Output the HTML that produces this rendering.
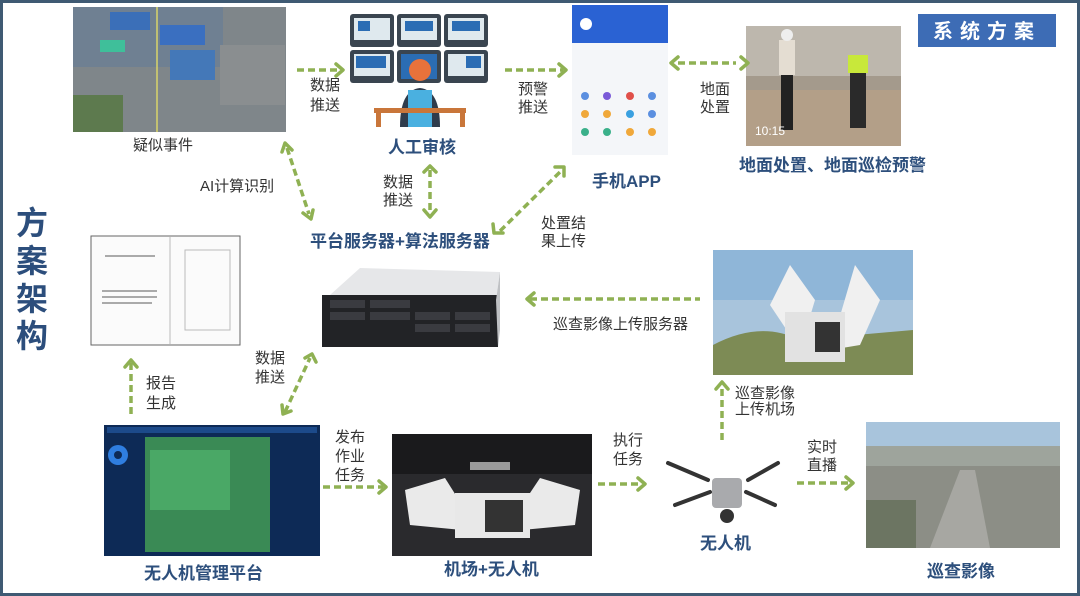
<!DOCTYPE html>
<html><head><meta charset="utf-8"><style>
html,body{margin:0;padding:0;background:#fff}
svg{display:block}
text{font-family:"Liberation Sans","Noto Sans CJK SC",sans-serif}
.l{font-size:15px;fill:#333}
.t{font-size:17px;font-weight:bold;fill:#2d4f7c}
.a{stroke:#8fb153;stroke-width:3.5;stroke-dasharray:7 4;fill:none}
.h{fill:none;stroke:#8fb153;stroke-width:3.5;stroke-linecap:round;stroke-linejoin:round}
</style></head><body>
<svg width="1080" height="596" viewBox="0 0 1080 596" xmlns="http://www.w3.org/2000/svg">
<rect x="1.5" y="1.5" width="1077" height="593" fill="#fff" stroke="#3f5a73" stroke-width="3"/>

<!-- aerial photo -->
<rect x="73" y="7" width="213" height="125" fill="#7f868a"/>
<rect x="73" y="7" width="150" height="60" fill="#6f8092"/>
<rect x="110" y="12" width="40" height="18" fill="#3b6fb8"/>
<rect x="160" y="25" width="45" height="20" fill="#3a6fc0"/>
<rect x="100" y="40" width="25" height="12" fill="#3fbf9a"/>
<rect x="170" y="50" width="45" height="30" fill="#4478b8"/>
<rect x="220" y="45" width="65" height="60" fill="#8a8e90"/>
<rect x="73" y="95" width="50" height="37" fill="#5d7a4e"/>
<line x1="157" y1="7" x2="157" y2="132" stroke="#d9d46a" stroke-width="1.5"/>

<!-- monitors -->
<g>
<rect x="350" y="14" width="44" height="33" rx="3" fill="#3a4550"/><rect x="354" y="18" width="36" height="22" fill="#dfe9ee"/><rect x="358" y="21" width="12" height="10" fill="#2b6db4"/>
<rect x="397" y="14" width="44" height="33" rx="3" fill="#3a4550"/><rect x="401" y="18" width="36" height="22" fill="#dfe9ee"/><rect x="405" y="21" width="28" height="10" fill="#2b6db4"/>
<rect x="444" y="14" width="44" height="33" rx="3" fill="#3a4550"/><rect x="448" y="18" width="36" height="22" fill="#dfe9ee"/><rect x="452" y="21" width="28" height="10" fill="#2b6db4"/>
<rect x="350" y="50" width="44" height="33" rx="3" fill="#3a4550"/><rect x="354" y="54" width="36" height="22" fill="#dfe9ee"/><rect x="356" y="56" width="30" height="12" fill="#2b6db4"/>
<rect x="397" y="50" width="44" height="33" rx="3" fill="#3a4550"/><rect x="401" y="54" width="36" height="25" fill="#2b6db4"/>
<rect x="444" y="50" width="44" height="33" rx="3" fill="#3a4550"/><rect x="448" y="54" width="36" height="22" fill="#dfe9ee"/><rect x="466" y="56" width="15" height="12" fill="#2b6db4"/>
<path d="M400 127 Q400 90 420 88 Q440 90 440 127 Z" fill="#2f3c4c"/>
<circle cx="420" cy="70" r="11" fill="#e8723b"/>
<rect x="408" y="90" width="24" height="37" fill="#4ab0e0"/>
<rect x="374" y="108" width="92" height="5" fill="#c9763a"/>
<rect x="376" y="113" width="5" height="14" fill="#c9763a"/><rect x="460" y="113" width="5" height="14" fill="#c9763a"/>
</g>

<!-- phone -->
<rect x="572" y="5" width="96" height="150" fill="#f4f6f9"/>
<rect x="572" y="5" width="96" height="38" fill="#2a62d3"/>
<circle cx="586" cy="24" r="6" fill="#fff"/>
<g fill="#5b8fe0"><circle cx="585" cy="96" r="4"/><circle cx="607" cy="96" r="4" fill="#7a5ad8"/><circle cx="630" cy="96" r="4" fill="#e0504a"/><circle cx="652" cy="96" r="4"/>
<circle cx="585" cy="114" r="4" fill="#f0a83a"/><circle cx="607" cy="114" r="4" fill="#f0a83a"/><circle cx="630" cy="114" r="4" fill="#3aa0e0"/><circle cx="652" cy="114" r="4"/>
<circle cx="585" cy="132" r="4" fill="#3ab08a"/><circle cx="607" cy="132" r="4" fill="#3ab08a"/><circle cx="630" cy="132" r="4" fill="#f0a83a"/><circle cx="652" cy="132" r="4" fill="#f0a83a"/></g>

<!-- ground photo -->
<rect x="746" y="26" width="155" height="120" fill="#a49a8c"/>
<rect x="746" y="26" width="155" height="50" fill="#bdb7ad"/>
<rect x="746" y="90" width="155" height="56" fill="#b39f88"/>
<rect x="779" y="40" width="16" height="35" fill="#e4ddd2"/><rect x="781" y="75" width="12" height="55" fill="#222"/>
<circle cx="787" cy="35" r="6" fill="#eee"/>
<rect x="848" y="55" width="20" height="18" fill="#c8e83a"/><rect x="850" y="73" width="16" height="55" fill="#2a2a2a"/>
<text x="755" y="135" font-size="12" fill="#fff">10:15</text>

<!-- title box -->
<rect x="918" y="14" width="138" height="33" fill="#3d6cb5"/>
<text x="987" y="38" text-anchor="middle" font-size="20" font-weight="bold" fill="#fff" letter-spacing="7">系统方案</text>

<!-- vertical title -->
<g font-size="32" font-weight="bold" fill="#2c4e7c" text-anchor="middle">
<text x="32" y="234">方</text><text x="32" y="272">案</text><text x="32" y="310">架</text><text x="32" y="347">构</text>
</g>

<!-- report -->
<rect x="91" y="236" width="149" height="109" fill="#fbfbfb" stroke="#666" stroke-width="1"/>
<line x1="170" y1="237" x2="170" y2="344" stroke="#bbb"/>
<g fill="#aaa"><rect x="105" y="255" width="50" height="2"/><rect x="102" y="290" width="55" height="2"/><rect x="102" y="296" width="55" height="2"/><rect x="102" y="302" width="50" height="2"/>
<rect x="185" y="250" width="45" height="80" fill="none" stroke="#bbb"/></g>

<!-- server -->
<path d="M330 295 L360 268 L500 272 L496 300 Z" fill="#e6e7e9"/>
<rect x="322" y="295" width="176" height="52" fill="#222326"/>
<path d="M496 300 L500 272 L500 330 L498 347 Z" fill="#bfc1c4"/>
<g fill="#3a3b40"><rect x="330" y="300" width="35" height="8"/><rect x="370" y="300" width="40" height="8"/><rect x="330" y="312" width="35" height="8"/><rect x="370" y="312" width="40" height="8"/><rect x="415" y="312" width="35" height="8"/><rect x="455" y="312" width="35" height="8"/><rect x="415" y="324" width="35" height="8"/><rect x="455" y="324" width="35" height="8"/></g>

<!-- gimbal photo -->
<rect x="713" y="250" width="200" height="125" fill="#a8c4dc"/>
<rect x="713" y="250" width="200" height="50" fill="#8fb6d8"/>
<path d="M713 345 Q760 320 800 340 L913 330 L913 375 L713 375 Z" fill="#7d8b55"/>
<path d="M770 305 L790 265 L815 300 L800 350 Z" fill="#f0f0f0"/>
<path d="M830 350 L855 265 L880 300 L860 345 Z" fill="#f0f0f0"/>
<rect x="785" y="312" width="60" height="50" fill="#e2e2e2"/><rect x="815" y="322" width="25" height="30" fill="#333"/>

<!-- dashboard -->
<rect x="104" y="425" width="216" height="131" fill="#0d2a56"/>
<rect x="145" y="437" width="125" height="115" fill="#3a8a55"/>
<rect x="150" y="450" width="80" height="60" fill="#4aa866"/>
<circle cx="118" cy="455" r="10" fill="#2f7ee0"/><circle cx="118" cy="455" r="4" fill="#0d2a56"/>
<rect x="107" y="427" width="210" height="6" fill="#1c4a8a"/>

<!-- dock -->
<rect x="392" y="434" width="200" height="122" fill="#2a2a2d"/>
<rect x="392" y="434" width="200" height="40" fill="#1a1a1c"/>
<path d="M405 490 L445 478 L462 505 L462 530 L410 525 Z" fill="#eaeaea"/>
<path d="M580 490 L540 478 L522 505 L522 530 L575 525 Z" fill="#eaeaea"/>
<rect x="455" y="493" width="75" height="45" fill="#e8e8e8"/><rect x="485" y="500" width="38" height="32" fill="#333"/>
<rect x="470" y="462" width="40" height="8" fill="#9a9a9a"/>

<!-- drone -->
<g stroke="#333" stroke-width="4" stroke-linecap="round">
<line x1="708" y1="480" x2="668" y2="463"/><line x1="748" y1="480" x2="778" y2="463"/>
<line x1="710" y1="492" x2="675" y2="505"/><line x1="746" y1="492" x2="775" y2="505"/>
</g>
<rect x="712" y="478" width="30" height="30" rx="4" fill="#a9aaad"/>
<circle cx="727" cy="516" r="7" fill="#333"/>

<!-- city -->
<rect x="866" y="422" width="194" height="126" fill="#8c8e86"/>
<rect x="866" y="422" width="194" height="24" fill="#a8c4dc"/>
<rect x="866" y="446" width="194" height="20" fill="#9ea49c"/>
<path d="M930 548 L960 470 L975 470 L990 548 Z" fill="#a7a7a2"/>
<rect x="866" y="500" width="50" height="48" fill="#6c7562"/>

<!-- labels -->
<text class="l" x="133" y="150">疑似事件</text>
<text class="t" x="388" y="153">人工审核</text>
<text class="t" x="592" y="187">手机APP</text>
<text class="t" x="739" y="171">地面处置、地面巡检预警</text>
<text class="t" x="310" y="247">平台服务器+算法服务器</text>
<text class="t" x="144" y="579">无人机管理平台</text>
<text class="t" x="444" y="575">机场+无人机</text>
<text class="t" x="700" y="549">无人机</text>
<text class="t" x="927" y="577">巡查影像</text>

<text class="l" x="310" y="90">数据</text><text class="l" x="310" y="110">推送</text>
<text class="l" x="518" y="94">预警</text><text class="l" x="518" y="112">推送</text>
<text class="l" x="700" y="94">地面</text><text class="l" x="700" y="112">处置</text>
<text class="l" x="200" y="191">AI计算识别</text>
<text class="l" x="383" y="187">数据</text><text class="l" x="383" y="205">推送</text>
<text class="l" x="541" y="228">处置结</text><text class="l" x="541" y="246">果上传</text>
<text class="l" x="553" y="329">巡查影像上传服务器</text>
<text class="l" x="146" y="388">报告</text><text class="l" x="146" y="408">生成</text>
<text class="l" x="255" y="363">数据</text><text class="l" x="255" y="382">推送</text>
<text class="l" x="335" y="442">发布</text><text class="l" x="335" y="461">作业</text><text class="l" x="335" y="480">任务</text>
<text class="l" x="613" y="445">执行</text><text class="l" x="613" y="464">任务</text>
<text class="l" x="735" y="398">巡查影像</text><text class="l" x="735" y="414">上传机场</text>
<text class="l" x="807" y="452">实时</text><text class="l" x="807" y="470">直播</text>

<!-- arrows -->
<line class="a" x1="297" y1="70" x2="340" y2="70"/><path class="h" d="M336 64 L343 70 L336 76"/>
<line class="a" x1="505" y1="70" x2="563" y2="70"/><path class="h" d="M559 64 L566 70 L559 76"/>
<line class="a" x1="678" y1="63" x2="736" y2="63"/><path class="h" d="M741 57 L748 63 L741 69"/><path class="h" d="M678 57 L671 63 L678 69"/>
<line class="a" x1="287" y1="148" x2="309" y2="214"/><path class="h" d="M282 152 L285 143 L292 150"/><path class="h" d="M303 213 L311 219 L313 210"/>
<line class="a" x1="430" y1="170" x2="430" y2="214"/><path class="h" d="M424 172 L430 166 L436 172"/><path class="h" d="M424 210 L430 217 L436 210"/>
<line class="a" x1="500" y1="231" x2="560" y2="172"/><path class="h" d="M493 224 L494 233 L503 233"/><path class="h" d="M555 167 L564 167 L564 176"/>
<line class="a" x1="530" y1="299" x2="700" y2="299"/><path class="h" d="M534 293 L527 299 L534 305"/>
<line class="a" x1="131" y1="363" x2="131" y2="418"/><path class="h" d="M125 367 L131 360 L137 367"/>
<line class="a" x1="285" y1="412" x2="310" y2="358"/><path class="h" d="M282 405 L283 414 L291 411"/><path class="h" d="M305 358 L312 354 L316 362"/>
<line class="a" x1="323" y1="487" x2="383" y2="487"/><path class="h" d="M379 481 L386 487 L379 493"/>
<line class="a" x1="598" y1="484" x2="642" y2="484"/><path class="h" d="M638 478 L645 484 L638 490"/>
<line class="a" x1="722" y1="440" x2="722" y2="385"/><path class="h" d="M716 389 L722 382 L728 389"/>
<line class="a" x1="797" y1="483" x2="850" y2="483"/><path class="h" d="M846 477 L853 483 L846 489"/>
</svg>
</body></html>
